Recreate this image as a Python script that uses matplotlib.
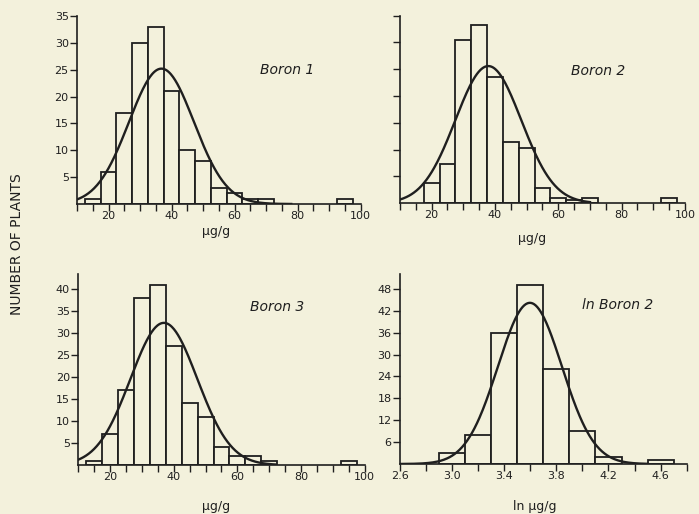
import numpy as np
import matplotlib
matplotlib.use('Agg')
import matplotlib.pyplot as plt
from matplotlib import rcParams
from matplotlib.ticker import FixedLocator, NullFormatter

rcParams['font.family'] = ['DejaVu Sans']

bg = '#f3f1dc'
ink = '#1f1f1f'

# histogram counts (bin width 5 ug/g)
b1_centers = [15, 20, 25, 30, 35, 40, 45, 50, 55, 60, 65, 70, 95]
b1_counts = [1, 6, 17, 30, 33, 21, 10, 8, 3, 2, 1, 1, 1]

b2_centers = [20, 25, 30, 35, 40, 45, 50, 55, 60, 65, 70, 95]
b2_counts = [3.7, 7.3, 30.5, 33.2, 23.6, 11.4, 10.4, 2.8, 1.0, 0.6, 1.0, 1.0]

b3_centers = [15, 20, 25, 30, 35, 40, 45, 50, 55, 60, 65, 70, 95]
b3_counts = [1, 7, 17, 38, 41, 27, 14, 11, 4, 2, 2, 1, 1]

# ln boron 2 (bin width 0.2)
ln_centers = [3.0, 3.2, 3.4, 3.6, 3.8, 4.0, 4.2, 4.6]
ln_counts = [3, 8, 36, 49, 26, 9, 2, 1]

# fitted normal curves: mean, sd, peak height, x range drawn
b1_fit = (36.8, 10.3, 25.2, 10, 78)
b2_fit = (37.9, 10.4, 25.6, 10, 70)
b3_fit = (36.9, 10.5, 32.3, 10, 72)
ln_fit = (3.597, 0.245, 44.2, 2.6, 4.5)

ug_major = [20, 40, 60, 80, 100]
ug_minor = [10, 15, 25, 30, 35, 45, 50, 55, 65, 70, 75, 85, 90, 95]
ln_major = [2.6, 3.0, 3.4, 3.8, 4.2, 4.6]
ln_minor = [2.8, 3.2, 3.6, 4.0, 4.4, 4.8]

fig = plt.figure(figsize=(6.99, 5.14), dpi=100, facecolor=bg)


def draw_panel(rect, centers, counts, width, fit, xlim, ylim, yticks,
               xmajor, xminor, xlabels, show_ylabels=True):
    ax = fig.add_axes(rect)
    ax.set_facecolor(bg)
    ax.patch.set_alpha(0)
    ax.bar(centers, counts, width=width, facecolor=bg, edgecolor=ink,
           linewidth=1.3, zorder=2)
    mu, sd, peak, x0, x1 = fit
    xs = np.linspace(x0, x1, 300)
    ax.plot(xs, peak * np.exp(-(xs - mu) ** 2 / (2 * sd ** 2)), color=ink,
            linewidth=1.7, zorder=3)
    ax.set_xlim(*xlim)
    ax.set_ylim(*ylim)
    for s in ['top', 'right']:
        ax.spines[s].set_visible(False)
    for s in ['left', 'bottom']:
        ax.spines[s].set_linewidth(1.2)
        ax.spines[s].set_color(ink)
    ax.xaxis.set_major_locator(FixedLocator(xmajor))
    ax.xaxis.set_minor_locator(FixedLocator(xminor))
    ax.set_xticklabels(xlabels)
    ax.xaxis.set_minor_formatter(NullFormatter())
    ax.set_yticks(yticks)
    if show_ylabels:
        ax.set_yticklabels([str(v) for v in yticks])
    else:
        ax.set_yticklabels([])
    ax.tick_params(axis='x', which='both', direction='out', length=5,
                   width=1.0, color=ink, labelsize=8, labelcolor=ink, pad=0)
    ax.tick_params(axis='y', direction='out', length=5, width=1.0,
                   color=ink, labelsize=8, labelcolor=ink, pad=1)
    return ax


ug_labels = [str(v) for v in ug_major]

ax1 = draw_panel([0.1102, 0.6031, 0.4056, 0.3658], b1_centers, b1_counts, 5,
                 b1_fit, (10, 100), (0, 35), [5, 10, 15, 20, 25, 30, 35],
                 ug_major, ug_minor, ug_labels)
ax1.text(68, 24.9, 'Boron 1', style='italic', fontsize=10, color=ink,
         va='center', ha='left')

ax2 = draw_panel([0.5722, 0.6045, 0.4077, 0.365], b2_centers, b2_counts, 5,
                 b2_fit, (10, 100), (0, 35), [5, 10, 15, 20, 25, 30, 35],
                 ug_major, ug_minor, ug_labels, show_ylabels=False)
ax2.text(63.9, 24.7, 'Boron 2', style='italic', fontsize=10, color=ink,
         va='center', ha='left')

ax3 = draw_panel([0.112, 0.0953, 0.4097, 0.3716], b3_centers, b3_counts, 5,
                 b3_fit, (10, 100), (0, 43.4), [5, 10, 15, 20, 25, 30, 35, 40],
                 ug_major, ug_minor, ug_labels)
ax3.text(64, 35.8, 'Boron 3', style='italic', fontsize=10, color=ink,
         va='center', ha='left')

ax4 = draw_panel([0.5722, 0.0973, 0.4102, 0.3696], ln_centers, ln_counts, 0.2,
                 ln_fit, (2.6, 4.8), (0, 52.1), [6, 12, 18, 24, 30, 36, 42, 48],
                 ln_major, ln_minor, [f'{v:.1f}' for v in ln_major])
ax4.text(3.994, 43.5, 'ln Boron 2', style='italic', fontsize=10, color=ink,
         va='center', ha='left')

# axis titles
fig.text(0.309, 0.549, 'μg/g', fontsize=9, color=ink, ha='center', va='center')
fig.text(0.761, 0.536, 'μg/g', fontsize=9, color=ink, ha='center', va='center')
fig.text(0.309, 0.0146, 'μg/g', fontsize=9, color=ink, ha='center', va='center')
fig.text(0.765, 0.0146, 'ln μg/g', fontsize=9, color=ink, ha='center', va='center')
fig.text(0.0243, 0.526, 'NUMBER OF PLANTS', fontsize=10, color=ink,
         rotation=90, ha='center', va='center')

fig.savefig('out.png', dpi=100, facecolor=bg)
